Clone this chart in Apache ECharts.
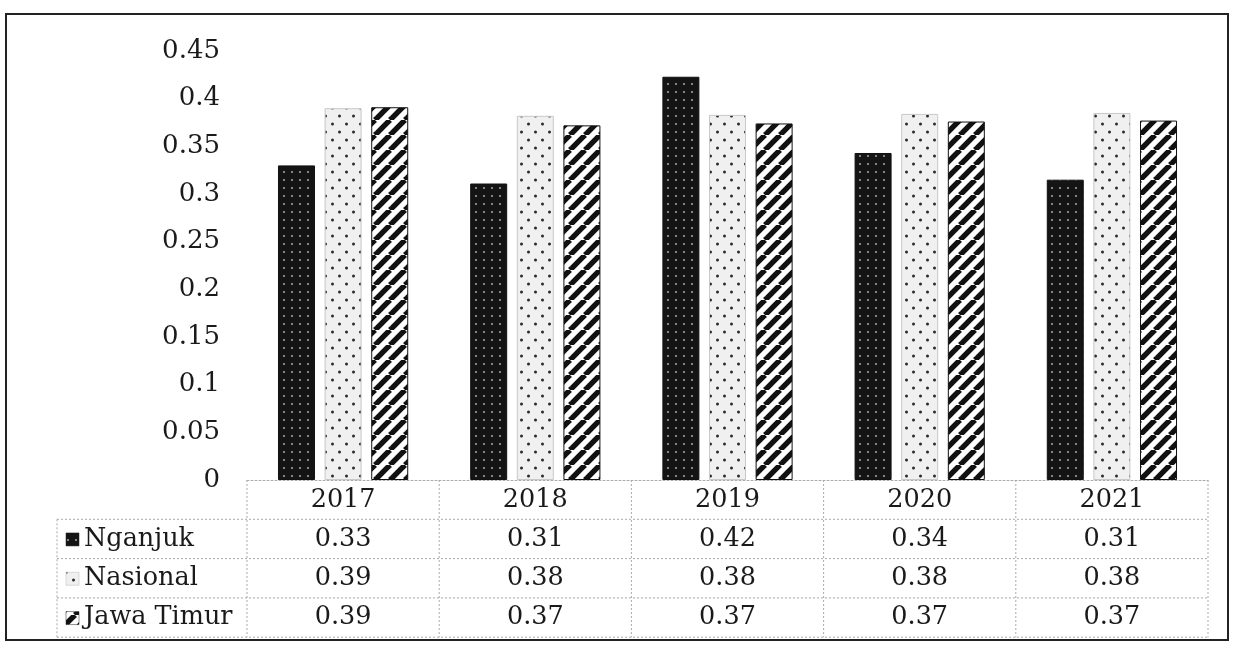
<!DOCTYPE html>
<html><head><meta charset="utf-8">
<script src="https://cdn.jsdelivr.net/npm/echarts@6/dist/echarts.min.js"></script>
<style>html,body{margin:0;padding:0;background:#fff}#c{width:1234px;height:651px}</style>
</head><body><div id="c"></div>
<script>
// ---- data ----
const categories = ['2017', '2018', '2019', '2020', '2021'];
const seriesNames = ['Nganjuk', 'Nasional', 'Jawa Timur'];
const nganjuk   = [0.330, 0.311, 0.423, 0.343, 0.315];
const nasional  = [0.390, 0.382, 0.383, 0.384, 0.385];
const jawaTimur = [0.391, 0.372, 0.374, 0.376, 0.377];
const nganjukText   = ['0.33', '0.31', '0.42', '0.34', '0.31'];
const nasionalText  = ['0.39', '0.38', '0.38', '0.38', '0.38'];
const jawaTimurText = ['0.39', '0.37', '0.37', '0.37', '0.37'];
const yMin = 0, yMax = 0.45, yStep = 0.05;

// ---- patterns ----
function tile(w, h, draw) {
  const c = document.createElement('canvas'); c.width = w; c.height = h;
  draw(c.getContext('2d'), w, h); return c;
}
const darkDots = tile(8, 8, (g, w, h) => {
  g.fillStyle = '#141414'; g.fillRect(0, 0, w, h);
  g.fillStyle = '#a0a0a0'; g.beginPath(); g.arc(4, 4, 1.1, 0, Math.PI * 2); g.fill();
});
const lightDots = tile(14, 16, (g, w, h) => {
  g.fillStyle = '#f0f0f0'; g.fillRect(0, 0, w, h);
  g.fillStyle = '#2a2a2a';
  g.beginPath(); g.arc(3.5, 4, 1.5, 0, Math.PI * 2); g.fill();
  g.beginPath(); g.arc(10.5, 12, 1.5, 0, Math.PI * 2); g.fill();
});
const stripes = tile(15, 15, (g, w, h) => {
  g.fillStyle = '#ffffff'; g.fillRect(0, 0, w, h);
  g.strokeStyle = '#111'; g.lineWidth = 5.4;
  for (const x0 of [-w, 0, w]) { g.beginPath(); g.moveTo(x0, h); g.lineTo(x0 + w, 0); g.stroke(); }
});
const fills = [
  { image: darkDots, repeat: 'repeat' },
  { image: lightDots, repeat: 'repeat' },
  { image: stripes, repeat: 'repeat' }
];
const values = [nganjuk, nasional, jawaTimur];
const texts = [nganjukText, nasionalText, jawaTimurText];

const FONT = 'DejaVu Serif';
const TFONT = '25.5px "' + FONT + '"';
const INK = '#1a1a1a';
const chart = echarts.init(document.getElementById('c'));
chart.setOption({
  backgroundColor: '#fff',
  animation: false,
  grid: { left: 247, right: 26, top: 51, bottom: 171 },
  xAxis: {
    type: 'category', data: categories,
    axisLine: { show: true, lineStyle: { color: '#aaa', type: [2, 2], width: 1 } },
    axisTick: { show: false }, axisLabel: { show: false }
  },
  yAxis: {
    type: 'value', min: yMin, max: yMax, interval: yStep,
    axisLine: { show: false }, axisTick: { show: false }, splitLine: { show: false },
    axisLabel: { margin: 27, color: INK, fontFamily: FONT, fontSize: 26,
      formatter: v => String(+v.toFixed(2)) }
  },
  series: seriesNames.map((n, i) => ({
    name: n, type: 'bar', data: values[i],
    barWidth: 37, barGap: '26%',
    itemStyle: { color: fills[i], borderColor: i === 1 ? '#c8c8c8' : '#111', borderWidth: 1 }
  }))
});

// ---- data table below the plot, positioned through the axes ----
const centers = categories.map(c => chart.convertToPixel({ xAxisIndex: 0 }, c));
const cw = centers[1] - centers[0];
const tableTop = chart.convertToPixel({ yAxisIndex: 0 }, 0);
const rowH = 39.3;
const tableLeft = 57;
const colLeft = centers[0] - cw / 2;
const colRight = centers[centers.length - 1] + cw / 2;
const lineStyle = { stroke: '#aaa', lineWidth: 1, lineDash: [2, 2] };
const els = [];
for (let k = 1; k <= 4; k++) {
  els.push({ type: 'line', shape: { x1: tableLeft, y1: tableTop + rowH * k, x2: colRight, y2: tableTop + rowH * k }, style: lineStyle, silent: true });
}
els.push({ type: 'line', shape: { x1: tableLeft, y1: tableTop + rowH, x2: tableLeft, y2: tableTop + rowH * 4 }, style: lineStyle });
for (let i = 0; i <= categories.length; i++) {
  const x = colLeft + cw * i;
  els.push({ type: 'line', shape: { x1: x, y1: tableTop, x2: x, y2: tableTop + rowH * 4 }, style: lineStyle });
}
categories.forEach((c, i) => {
  els.push({ type: 'text', x: centers[i], y: tableTop + rowH / 2 + 1,
    style: { text: c, font: TFONT, fill: INK, align: 'center', verticalAlign: 'middle' } });
});
seriesNames.forEach((n, r) => {
  const cy = tableTop + rowH * (r + 1.5);
  els.push({ type: 'rect', shape: { x: 66, y: cy - 6, width: 13, height: 13 },
    style: { fill: fills[r], stroke: r === 1 ? '#bbb' : '#222', lineWidth: 0.5 } });
  els.push({ type: 'text', x: 84, y: cy,
    style: { text: n, font: TFONT, fill: INK, align: 'left', verticalAlign: 'middle' } });
  texts[r].forEach((t, i) => {
    els.push({ type: 'text', x: centers[i], y: cy,
      style: { text: t, font: TFONT, fill: INK, align: 'center', verticalAlign: 'middle' } });
  });
});
// outer frame
els.push({ type: 'rect', shape: { x: 6, y: 14, width: 1222, height: 626 },
  style: { fill: 'none', stroke: '#222', lineWidth: 2 }, z: 10 });
chart.setOption({ graphic: { elements: els } });
</script></body></html>
